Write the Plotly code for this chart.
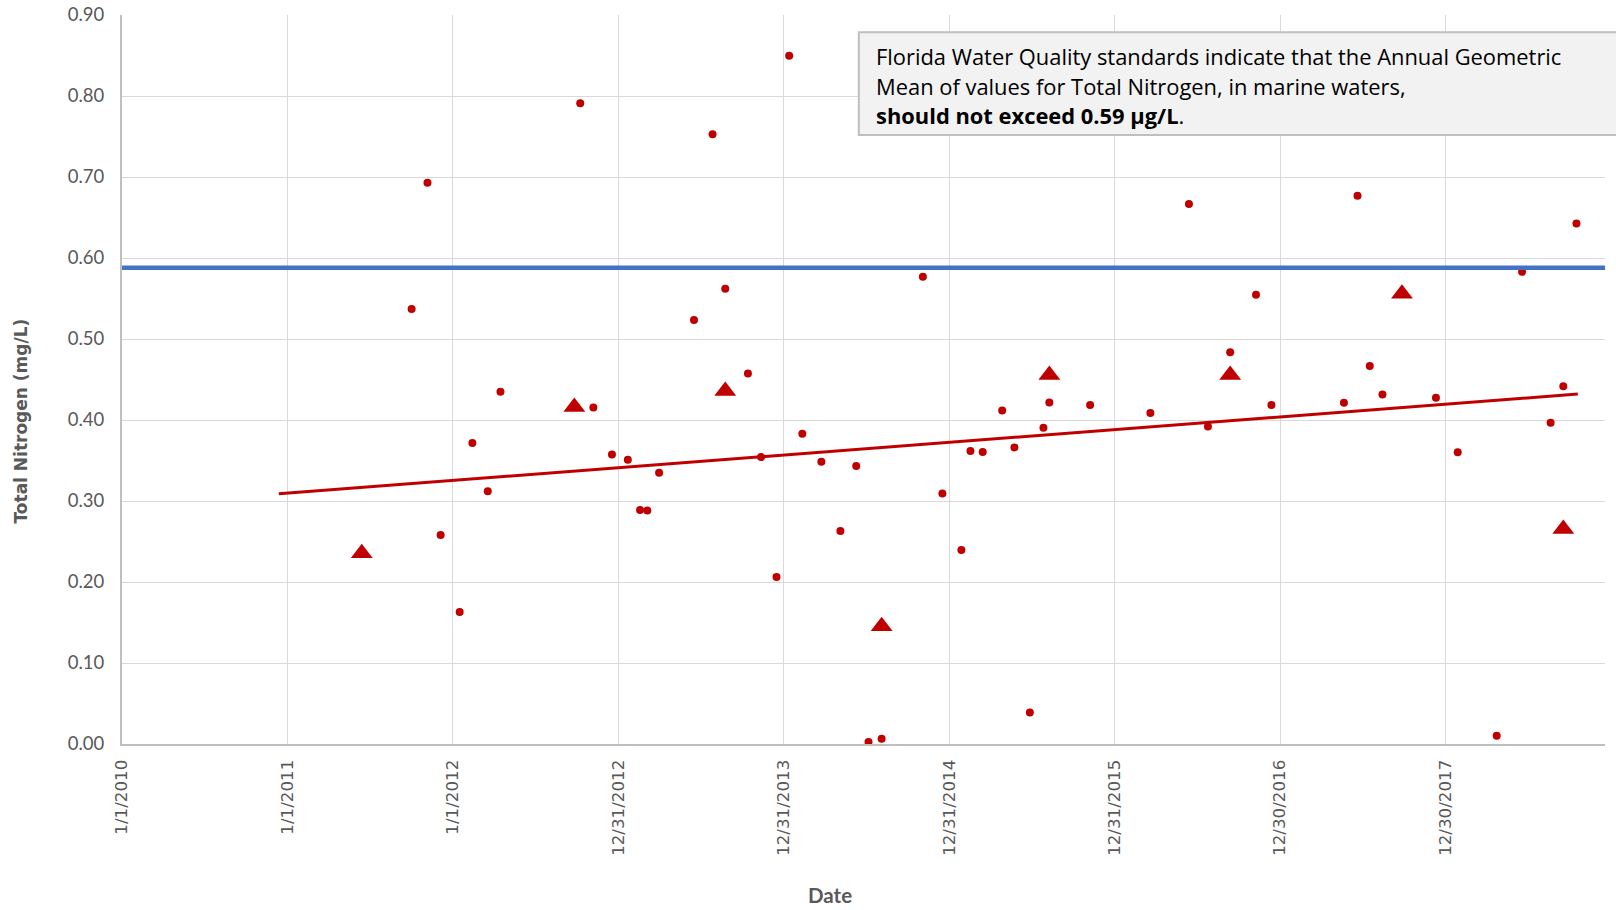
import plotly.graph_objects as go

# ---------------- data ----------------
dot_dates = [
    "2011-10-02", "2011-11-06", "2011-12-05", "2012-01-16", "2012-02-13", "2012-03-18",
    "2012-04-15", "2012-10-08", "2012-11-06", "2012-12-17", "2013-01-21", "2013-02-17",
    "2013-03-05", "2013-03-31", "2013-06-16", "2013-07-27", "2013-08-24", "2013-10-13",
    "2013-11-11", "2013-12-15", "2014-01-12", "2014-02-10", "2014-03-24", "2014-05-05",
    "2014-06-09", "2014-07-06", "2014-08-04", "2014-11-03", "2014-12-16", "2015-01-27",
    "2015-02-16", "2015-03-15", "2015-04-27", "2015-05-24", "2015-06-27", "2015-07-27",
    "2015-08-09", "2015-11-07", "2016-03-19", "2016-06-12", "2016-07-24", "2016-09-11",
    "2016-11-07", "2016-12-11", "2017-05-20", "2017-06-19", "2017-07-16", "2017-08-13",
    "2017-12-09", "2018-01-26", "2018-04-22", "2018-06-17", "2018-08-19", "2018-09-16",
    "2018-10-15",
]
dot_values = [
    0.537, 0.693, 0.258, 0.163, 0.3715, 0.312,
    0.435, 0.791, 0.4154, 0.3574, 0.351, 0.289,
    0.2883, 0.335, 0.5236, 0.7528, 0.5619, 0.4574,
    0.3542, 0.2061, 0.8498, 0.3829, 0.3484, 0.2629,
    0.3431, 0.0025, 0.0065, 0.5767, 0.3093, 0.2394,
    0.3616, 0.3604, 0.4117, 0.3662, 0.039, 0.3903,
    0.4216, 0.4184, 0.4085, 0.6668, 0.392, 0.4835,
    0.5545, 0.4184, 0.4214, 0.6767, 0.4667, 0.4315,
    0.4274, 0.3602, 0.0102, 0.583, 0.3965, 0.4418,
    0.6425,
]

tri_dates = ["2011-06-14", "2012-09-25", "2013-08-24", "2014-08-04", "2015-08-09",
             "2016-09-11", "2017-09-25", "2018-09-16"]
tri_values = [0.2356, 0.416, 0.4358, 0.1455, 0.4555, 0.4555, 0.556, 0.2653]

trend_dates = ["2010-12-13", "2018-10-18"]
trend_values = [0.3089, 0.4321]

standard_dates = ["2010-01-01", "2018-12-17"]
standard_values = [0.588, 0.588]

x_tick_dates = ["2010-01-01", "2011-01-01", "2012-01-01", "2012-12-31", "2013-12-31",
                "2014-12-31", "2015-12-31", "2016-12-30", "2017-12-30"]
x_tick_labels = ["1/1/2010", "1/1/2011", "1/1/2012", "12/31/2012", "12/31/2013",
                 "12/31/2014", "12/31/2015", "12/30/2016", "12/30/2017"]
y_tick_values = [0.0, 0.1, 0.2, 0.3, 0.4, 0.5, 0.6, 0.7, 0.8, 0.9]
y_tick_labels = ["0.00", "0.10", "0.20", "0.30", "0.40", "0.50", "0.60", "0.70", "0.80", "0.90"]

note_lines = [
    "Florida Water Quality standards indicate that the Annual Geometric",
    "Mean of values for Total Nitrogen, in marine waters,",
    "<b>should not exceed 0.59 µg/L</b>.",
]

# ---------------- layout geometry ----------------
W, H = 1616, 910
L, R, T, B = 122, 11, 15, 166
PW, PH = W - L - R, H - T - B


def px_x(x):
    return (x - L) / PW


def px_y(y):
    return (H - B - y) / PH


RED = "#C00000"
GRAY = "#595959"

fig = go.Figure()

fig.add_trace(go.Scatter(
    x=tri_dates, y=tri_values, mode="markers",
    marker=dict(symbol="triangle-up", size=19, color=RED, line=dict(width=0)),
    showlegend=False, cliponaxis=False,
))
fig.add_trace(go.Scatter(
    x=dot_dates, y=dot_values, mode="markers",
    marker=dict(symbol="circle", size=8, color=RED, line=dict(width=0)),
    showlegend=False, cliponaxis=False,
))
fig.add_trace(go.Scatter(
    x=trend_dates, y=trend_values, mode="lines",
    line=dict(color=RED, width=3), showlegend=False,
))
fig.add_trace(go.Scatter(
    x=standard_dates, y=standard_values, mode="lines",
    line=dict(color="#4472C4", width=4.5), showlegend=False,
))

fig.update_layout(
    width=W, height=H,
    margin=dict(l=L, r=R, t=T, b=B, pad=0, autoexpand=False),
    paper_bgcolor="white", plot_bgcolor="white",
    showlegend=False,
    xaxis=dict(
        type="date", range=[standard_dates[0], standard_dates[1]],
        tickmode="array", tickvals=x_tick_dates, ticktext=x_tick_labels,
        tickangle=-90, tickfont=dict(family="DejaVu Sans", size=16.7, color=GRAY),
        ticks="", ticklabelstandoff=7, automargin=False,
        showgrid=True, gridcolor="#d9d9d9", gridwidth=1.4,
        showline=True, linecolor="#bfbfbf", linewidth=2,
        zeroline=False, fixedrange=True,
    ),
    yaxis=dict(
        range=[0, 0.9], tickmode="array", tickvals=y_tick_values, ticktext=y_tick_labels,
        tickfont=dict(family="Lato", size=18.5, color=GRAY),
        ticks="", ticklabelstandoff=12, automargin=False,
        showgrid=True, gridcolor="#d9d9d9", gridwidth=1.4,
        showline=True, linecolor="#bfbfbf", linewidth=2,
        zeroline=False, fixedrange=True,
    ),
    shapes=[dict(
        type="rect", xref="paper", yref="paper",
        x0=px_x(858.8), x1=1.05, y0=px_y(135), y1=px_y(32.3),
        line=dict(color="#bfbfbf", width=2), fillcolor="#f2f2f2", layer="above",
    )],
)

annotations = []
for txt, yc in zip(note_lines, [56.0, 86.2, 116.0]):
    annotations.append(dict(
        text=txt, xref="paper", yref="paper", x=px_x(875.5), y=px_y(yc),
        xanchor="left", yanchor="middle", showarrow=False, align="left",
        font=dict(family="Open Sans", size=21.9, color="#000000"),
        borderpad=0, borderwidth=0,
    ))
annotations.append(dict(
    text="<b>Total Nitrogen (mg/L)</b>", xref="paper", yref="paper",
    x=px_x(21), y=px_y(421.5), xanchor="center", yanchor="middle",
    textangle=-90, showarrow=False,
    font=dict(family="DejaVu Sans", size=17, color=GRAY),
))
annotations.append(dict(
    text="<b>Date</b>", xref="paper", yref="paper",
    x=px_x(830), y=px_y(895.5), xanchor="center", yanchor="middle",
    showarrow=False, font=dict(family="Lato", size=20.5, color=GRAY),
))
fig.update_layout(annotations=annotations)

fig.write_html(
    "out.html",
    config={"displayModeBar": False, "staticPlot": False},
    post_script="document.body.style.margin='0';",
)
